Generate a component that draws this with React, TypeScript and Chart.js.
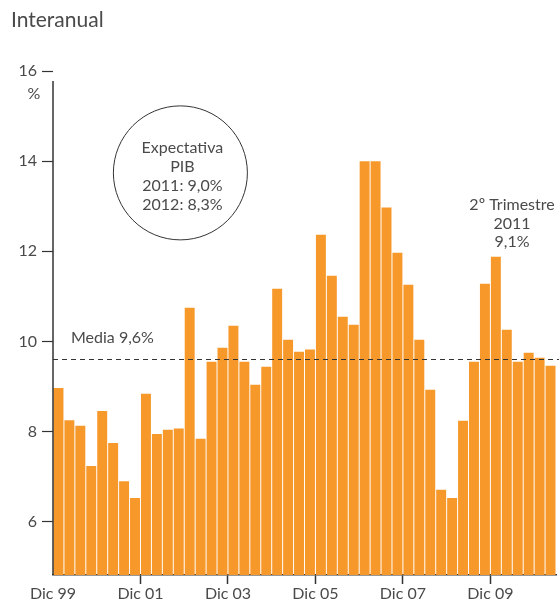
import { useEffect, useRef } from "react";
import { Chart, registerables } from "chart.js";

Chart.register(...registerables);

const title = "Interanual";
const unitLabel = "%";

const quarters = [
  "1T00", "2T00", "3T00", "4T00",
  "1T01", "2T01", "3T01", "4T01",
  "1T02", "2T02", "3T02", "4T02",
  "1T03", "2T03", "3T03", "4T03",
  "1T04", "2T04", "3T04", "4T04",
  "1T05", "2T05", "3T05", "4T05",
  "1T06", "2T06", "3T06", "4T06",
  "1T07", "2T07", "3T07", "4T07",
  "1T08", "2T08", "3T08", "4T08",
  "1T09", "2T09", "3T09", "4T09",
  "1T10", "2T10", "3T10", "4T10",
  "1T11", "2T11",
];

const values = [
  8.97, 8.25, 8.13, 7.24, 8.46, 7.75, 6.9, 6.53,
  8.84, 7.95, 8.04, 8.07, 10.75, 7.84, 9.55, 9.86,
  10.35, 9.55, 9.04, 9.44, 11.17, 10.04, 9.77, 9.82,
  12.37, 11.46, 10.55, 10.37, 14.0, 14.0, 12.97, 11.97,
  11.26, 10.04, 8.93, 6.71, 6.53, 8.24, 9.55, 11.28,
  11.88, 10.26, 9.55, 9.75, 9.64, 9.46,
];

const xTickPositions = [0, 8, 16, 24, 32, 40];
const xTickLabels = ["Dic 99", "Dic 01", "Dic 03", "Dic 05", "Dic 07", "Dic 09"];
const yTickValues = [6, 8, 10, 12, 14, 16];

const meanValue = 9.6;
const meanLabel = "Media 9,6%";
const bubbleLines = ["Expectativa", "PIB", "2011: 9,0%", "2012: 8,3%"];
const bubbleAt = { x: 11.65, y: 13.74 };
const lastLines = ["2º Trimestre", "2011", "9,1%"];
const lastAt = { x: 41.98, y: 13.04 };

const FONT = "Lato, 'Open Sans', sans-serif";
const TEXT = "#4a4a4a";
const AXIS = "#333333";
const BAR = "#F7982A";

const annotations = {
  id: "annotations",
  afterDatasetsDraw(chart: any) {
    const { ctx, chartArea: a, scales } = chart;
    const x = scales.x;
    const y = scales.y;
    ctx.save();

    // title
    ctx.fillStyle = TEXT;
    ctx.font = `21px ${FONT}`;
    ctx.textAlign = "left";
    ctx.textBaseline = "alphabetic";
    ctx.fillText(title, 11, 27);

    // y axis line (starts a little below the top tick)
    const topY = y.getPixelForValue(yTickValues[yTickValues.length - 1]);
    ctx.strokeStyle = AXIS;
    ctx.lineWidth = 1.5;
    ctx.beginPath();
    ctx.moveTo(a.left, topY + 10);
    ctx.lineTo(a.left, a.bottom);
    ctx.stroke();

    // unit label
    ctx.font = `16px ${FONT}`;
    ctx.textAlign = "center";
    ctx.fillText(unitLabel, a.left - 19, topY + 28);

    // mean line
    const my = y.getPixelForValue(meanValue);
    ctx.setLineDash([5, 4]);
    ctx.lineWidth = 1.2;
    ctx.strokeStyle = AXIS;
    ctx.beginPath();
    ctx.moveTo(a.left, my);
    ctx.lineTo(chart.width, my);
    ctx.stroke();
    ctx.setLineDash([]);

    ctx.textAlign = "left";
    ctx.fillText(meanLabel, a.left + 18, my - 17);

    // bubble
    const cx = x.getPixelForValue(bubbleAt.x);
    const cy = y.getPixelForValue(bubbleAt.y);
    ctx.beginPath();
    ctx.arc(cx, cy, 67, 0, Math.PI * 2);
    ctx.lineWidth = 1;
    ctx.strokeStyle = AXIS;
    ctx.stroke();
    ctx.textAlign = "center";
    bubbleLines.forEach((t, i) => {
      ctx.fillText(t, cx + 2, cy - 20 + i * 19);
    });

    // last quarter label
    const lx = x.getPixelForValue(lastAt.x);
    const ly = y.getPixelForValue(lastAt.y);
    lastLines.forEach((t, i) => {
      ctx.fillText(t, lx, ly + 6 + i * 18.5);
    });

    ctx.restore();
  },
};

export default function App() {
  const ref = useRef<HTMLCanvasElement>(null);

  useEffect(() => {
    if (!ref.current) return;
    const chart = new Chart(ref.current, {
      type: "bar",
      data: {
        datasets: [
          {
            label: "Interanual",
            data: values.map((v, i) => ({ x: i + 0.5, y: v, q: quarters[i] })),
            backgroundColor: BAR,
            borderWidth: 0,
            barPercentage: 0.91,
            categoryPercentage: 1,
          },
        ],
      },
      options: {
        responsive: false,
        animation: false,
        layout: { padding: { top: 71, right: 3, left: 0, bottom: 0 } },
        plugins: {
          legend: { display: false },
          tooltip: { enabled: false },
          title: { display: false },
        },
        scales: {
          x: {
            type: "linear",
            offset: false,
            min: 0,
            max: quarters.length,
            afterFit: (s: any) => {
              s.height = 28;
            },
            afterBuildTicks: (s: any) => {
              s.ticks = xTickPositions.map((v) => ({ value: v }));
            },
            ticks: {
              autoSkip: false,
              maxRotation: 0,
              padding: 0,
              color: TEXT,
              font: { family: FONT, size: 16 },
              callback: (v: any) => {
                const idx = xTickPositions.indexOf(Number(v));
                return idx >= 0 ? xTickLabels[idx] : "";
              },
            },
            grid: {
              display: true,
              offset: false,
              drawOnChartArea: false,
              drawTicks: true,
              tickLength: 9,
              tickColor: (c: any) => (c.index === 0 ? "rgba(0,0,0,0)" : AXIS),
              tickWidth: 1.5,
            },
            border: { display: true, color: AXIS, width: 1.5 },
          },
          y: {
            min: 4.82,
            max: 16,
            afterFit: (s: any) => {
              s.width = 53;
            },
            afterBuildTicks: (s: any) => {
              s.ticks = yTickValues.map((v) => ({ value: v }));
            },
            ticks: {
              padding: 5,
              color: TEXT,
              font: { family: FONT, size: 16 },
              callback: (v: any) => String(v),
            },
            grid: {
              display: true,
              drawOnChartArea: false,
              drawTicks: true,
              tickLength: 11,
              tickColor: AXIS,
              tickWidth: 1.2,
            },
            border: { display: false },
          },
        },
      },
      plugins: [annotations],
    });
    return () => chart.destroy();
  }, []);

  return (
    <div style={{ position: "absolute", left: 0, top: 0, width: 559, height: 603, background: "#fff" }}>
      <canvas ref={ref} width={559} height={603} style={{ display: "block" }} />
    </div>
  );
}
